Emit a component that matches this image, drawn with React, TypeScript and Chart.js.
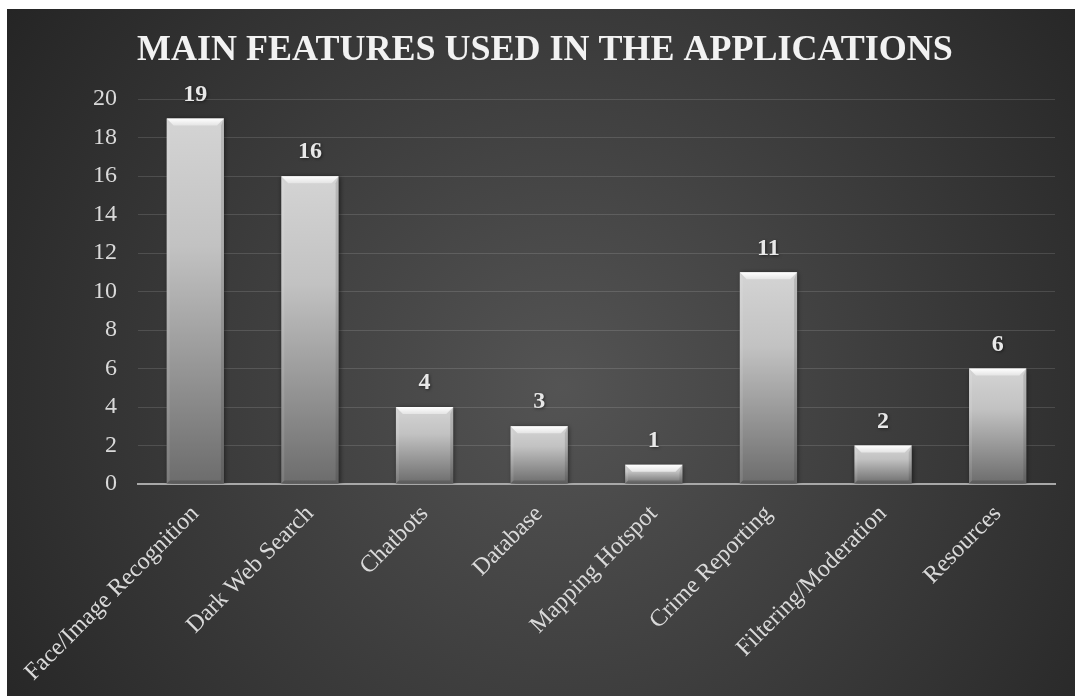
import { useEffect, useRef } from "react";
import { Chart, registerables } from "chart.js";

Chart.register(...registerables);

const categories = [
  "Face/Image Recognition",
  "Dark Web Search",
  "Chatbots",
  "Database",
  "Mapping Hotspot",
  "Crime Reporting",
  "Filtering/Moderation",
  "Resources",
];
const counts = [19, 16, 4, 3, 1, 11, 2, 6];
const yMin = 0;
const yMax = 20;
const yStep = 2;
const titleText = "MAIN FEATURES USED IN THE APPLICATIONS";

const SERIF = '"Liberation Serif", "Times New Roman", serif';

const backgroundPlugin = {
  id: "bgGradient",
  beforeDraw(chart: any) {
    const { ctx, width, height } = chart;
    ctx.save();
    const cx = width * 0.52;
    const cy = height * 0.55;
    const g = ctx.createRadialGradient(cx, cy, 0, cx, cy, Math.hypot(width, height) * 0.55);
    g.addColorStop(0, "#545454");
    g.addColorStop(1, "#232323");
    ctx.fillStyle = g;
    ctx.fillRect(0, 0, width, height);
    ctx.restore();
  },
};

const barStylePlugin = {
  id: "barStyle",
  beforeDatasetsDraw(chart: any) {
    const ctx = chart.ctx;
    ctx.save();
    ctx.shadowColor = "rgba(0,0,0,0.55)";
    ctx.shadowBlur = 5;
    ctx.shadowOffsetX = 1;
    ctx.shadowOffsetY = 1;
  },
  afterDatasetsDraw(chart: any) {
    const ctx = chart.ctx;
    ctx.restore();
    const meta = chart.getDatasetMeta(0);
    meta.data.forEach((bar: any, i: number) => {
      const { x, y, base, width } = bar.getProps(["x", "y", "base", "width"], true);
      const l = x - width / 2;
      const r = x + width / 2;
      const t = y;
      const b = base;
      const bev = 7;
      const side = 3;
      ctx.save();
      const tg = ctx.createLinearGradient(0, t, 0, t + bev);
      tg.addColorStop(0, "#ffffff");
      tg.addColorStop(1, "#e4e4e4");
      ctx.fillStyle = tg;
      ctx.beginPath();
      ctx.moveTo(l, t);
      ctx.lineTo(r, t);
      ctx.lineTo(r - bev, t + bev);
      ctx.lineTo(l + bev, t + bev);
      ctx.closePath();
      ctx.fill();
      ctx.fillStyle = "rgba(255,255,255,0.10)";
      ctx.beginPath();
      ctx.moveTo(l, t);
      ctx.lineTo(l + side, t + bev);
      ctx.lineTo(l + side, b - side);
      ctx.lineTo(l, b);
      ctx.closePath();
      ctx.fill();
      ctx.fillStyle = "rgba(0,0,0,0.12)";
      ctx.beginPath();
      ctx.moveTo(r, t);
      ctx.lineTo(r - side, t + bev);
      ctx.lineTo(r - side, b - side);
      ctx.lineTo(r, b);
      ctx.closePath();
      ctx.fill();
      ctx.fillStyle = "rgba(0,0,0,0.15)";
      ctx.beginPath();
      ctx.moveTo(l, b);
      ctx.lineTo(r, b);
      ctx.lineTo(r - side, b - side);
      ctx.lineTo(l + side, b - side);
      ctx.closePath();
      ctx.fill();
      ctx.restore();

      ctx.save();
      ctx.font = `bold 24px ${SERIF}`;
      ctx.fillStyle = "#e8e8e8";
      ctx.textAlign = "center";
      ctx.textBaseline = "middle";
      ctx.shadowColor = "rgba(0,0,0,0.5)";
      ctx.shadowBlur = 3;
      ctx.shadowOffsetX = 1;
      ctx.shadowOffsetY = 1;
      ctx.fillText(String(counts[i]), x, t - 24);
      ctx.restore();
    });
  },
};

export default function App() {
  const ref = useRef<HTMLCanvasElement | null>(null);

  useEffect(() => {
    if (!ref.current) return;
    const chart = new Chart(ref.current, {
      type: "bar",
      data: {
        labels: categories,
        datasets: [
          {
            label: "Count",
            data: counts,
            barPercentage: 0.5,
            categoryPercentage: 1,
            backgroundColor: (c: any) => {
              const ch = c.chart;
              if (!ch.chartArea || c.raw == null) return "#b0b0b0";
              const ys = ch.scales.y;
              const top = ys.getPixelForValue(c.raw);
              const bot = ys.getPixelForValue(0);
              const g = ch.ctx.createLinearGradient(0, top, 0, bot);
              g.addColorStop(0, "#d4d4d4");
              g.addColorStop(0.35, "#c2c2c2");
              g.addColorStop(1, "#6c6c6c");
              return g;
            },
            borderWidth: 0,
          },
        ],
      },
      options: {
        animation: false,
        responsive: true,
        maintainAspectRatio: false,
        layout: { padding: { left: 28, right: 20, top: 0, bottom: 0 } },
        plugins: {
          legend: { display: false },
          tooltip: { enabled: false },
          title: {
            display: true,
            text: titleText,
            color: "#f2f2f2",
            font: { family: SERIF, size: 36, weight: "bold" },
            padding: { top: 20, bottom: 27 },
          },
        },
        scales: {
          x: {
            grid: { display: false },
            border: { display: true, color: "#a8a8a8", width: 2 },
            ticks: {
              color: "#d9d9d9",
              font: { family: SERIF, size: 24 },
              maxRotation: 45,
              minRotation: 45,
              padding: 8,
            },
            afterFit: (s: any) => {
              s.height = 212;
            },
          },
          y: {
            min: yMin,
            max: yMax,
            grid: { color: "rgba(255,255,255,0.13)", lineWidth: 1, drawTicks: false },
            border: { display: false },
            ticks: {
              stepSize: yStep,
              color: "#d9d9d9",
              font: { family: SERIF, size: 24 },
              padding: 21,
            },
            afterFit: (s: any) => {
              s.width = 103;
            },
          },
        },
      },
      plugins: [backgroundPlugin, barStylePlugin],
    });
    return () => chart.destroy();
  }, []);

  return (
    <div style={{ position: "fixed", left: 7, top: 9, width: 1068, height: 687 }}>
      <canvas ref={ref} />
    </div>
  );
}
